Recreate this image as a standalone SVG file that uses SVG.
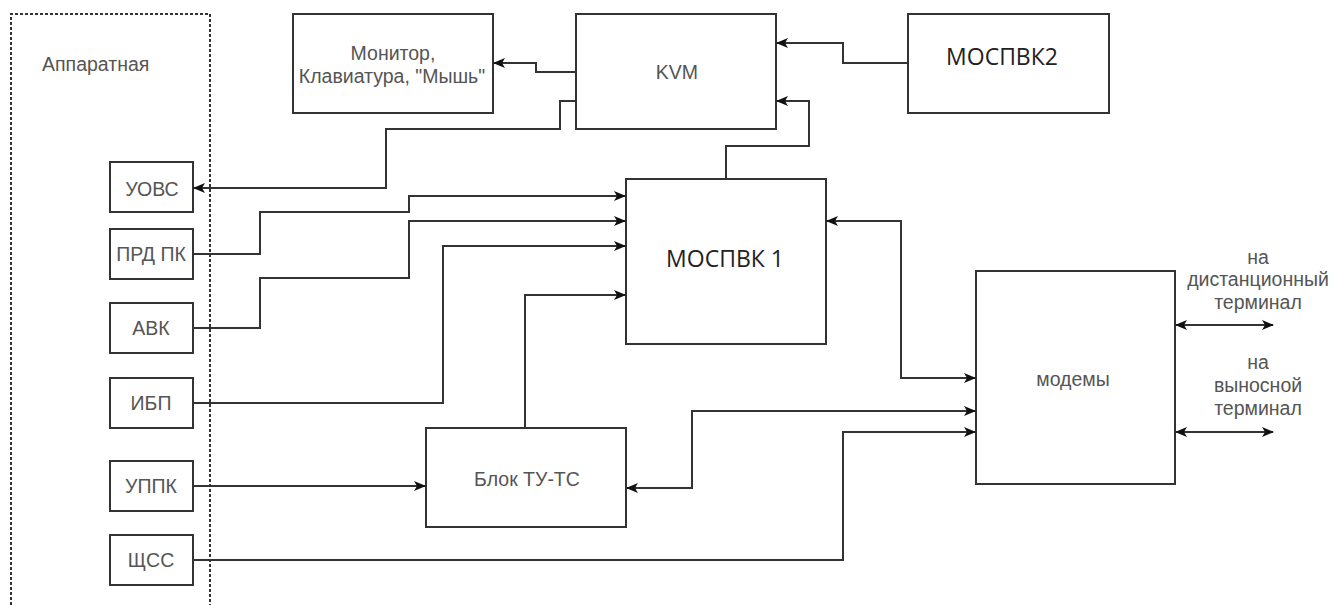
<svg xmlns="http://www.w3.org/2000/svg" width="1333" height="605" viewBox="0 0 1333 605">
<style>
.box{fill:#fff;stroke:#333;stroke-width:2}
.lbl{font-family:"Liberation Sans",Arial,sans-serif;font-size:19.5px;fill:#555;text-anchor:middle}
.big{font-family:"Open Sans","Noto Sans",sans-serif;font-size:23px;fill:#222;text-anchor:middle}
.con{fill:none;stroke:#333;stroke-width:2}
</style>
<defs>
<marker id="arr" viewBox="0 0 12 10" refX="11" refY="5" markerWidth="12" markerHeight="10" markerUnits="userSpaceOnUse" orient="auto-start-reverse">
<path d="M0,0 L12,5 L0,10 L3,5 z" fill="#111"/>
</marker>
</defs>
<rect width="1333" height="605" fill="#fff"/>
<g id="apparatnaya">
<path d="M11,610 V14 H210 V610" fill="none" stroke="#333" stroke-width="2" stroke-dasharray="3 2"/>
<text x="42" y="71" class="lbl" style="text-anchor:start">Аппаратная</text>
</g>
<g id="monitor"><rect class="box" x="293" y="14" width="200" height="99"/>
<text x="393" y="60" class="lbl">Монитор,</text><text x="392" y="83" class="lbl">Клавиатура, "Мышь"</text></g>
<g id="kvm"><rect class="box" x="576" y="14" width="200" height="115"/><text x="677" y="79" class="lbl">KVM</text></g>
<g id="mospvk2"><rect class="box" x="908" y="14" width="201" height="99"/><text x="1002" y="65" class="big">МОСПВК2</text></g>
<g id="mospvk1"><rect class="box" x="626" y="179" width="200" height="165"/><text x="725" y="267" class="big">МОСПВК 1</text></g>
<g id="modems"><rect class="box" x="976" y="271" width="199" height="213"/><text x="1073" y="386" class="lbl">модемы</text></g>
<g id="blok"><rect class="box" x="426" y="428" width="200" height="99"/><text x="527" y="486" class="lbl">Блок ТУ-ТС</text></g>
<g id="uovs"><rect class="box" x="110" y="162" width="83" height="50"/><text x="152" y="196" class="lbl">УОВС</text></g>
<g id="prdpk"><rect class="box" x="110" y="229" width="83" height="50"/><text x="151" y="261" class="lbl">ПРД ПК</text></g>
<g id="avk"><rect class="box" x="110" y="303" width="83" height="50"/><text x="151" y="335" class="lbl">АВК</text></g>
<g id="ibp"><rect class="box" x="110" y="378" width="83" height="50"/><text x="151" y="410" class="lbl">ИБП</text></g>
<g id="uppk"><rect class="box" x="110" y="461" width="83" height="50"/><text x="151" y="493" class="lbl">УППК</text></g>
<g id="shss"><rect class="box" x="110" y="535" width="83" height="50"/><text x="151" y="567" class="lbl">ЩСС</text></g>
<g id="term-labels">
<text x="1258" y="264" class="lbl">на</text><text x="1258" y="286" class="lbl">дистанционный</text><text x="1258" y="309" class="lbl">терминал</text>
<text x="1258" y="369" class="lbl">на</text><text x="1258" y="392" class="lbl">выносной</text><text x="1258" y="415" class="lbl">терминал</text>
</g>
<g id="connectors">
<path class="con" d="M576,72 H536 V63 H494" marker-end="url(#arr)"/>
<path class="con" d="M576,101 H560 V129 H386 V188 H194" marker-end="url(#arr)"/>
<path class="con" d="M908,63 H843 V43 H777" marker-end="url(#arr)"/>
<path class="con" d="M726,179 V146 H809 V101 H777" marker-end="url(#arr)"/>
<path class="con" d="M193,254 H260 V212 H409 V196 H625" marker-end="url(#arr)"/>
<path class="con" d="M193,328 H260 V278 H409 V221 H625" marker-end="url(#arr)"/>
<path class="con" d="M193,403 H443 V246 H625" marker-end="url(#arr)"/>
<path class="con" d="M525,428 V295 H625" marker-end="url(#arr)"/>
<path class="con" d="M193,486 H425" marker-end="url(#arr)"/>
<path class="con" d="M827,221 H901 V378 H975" marker-start="url(#arr)" marker-end="url(#arr)"/>
<path class="con" d="M627,488 H692 V411 H975" marker-start="url(#arr)" marker-end="url(#arr)"/>
<path class="con" d="M193,560 H843 V432 H975" marker-end="url(#arr)"/>
<path class="con" d="M1176,325 H1273" marker-start="url(#arr)" marker-end="url(#arr)"/>
<path class="con" d="M1176,432 H1273" marker-start="url(#arr)" marker-end="url(#arr)"/>
</g>
</svg>
